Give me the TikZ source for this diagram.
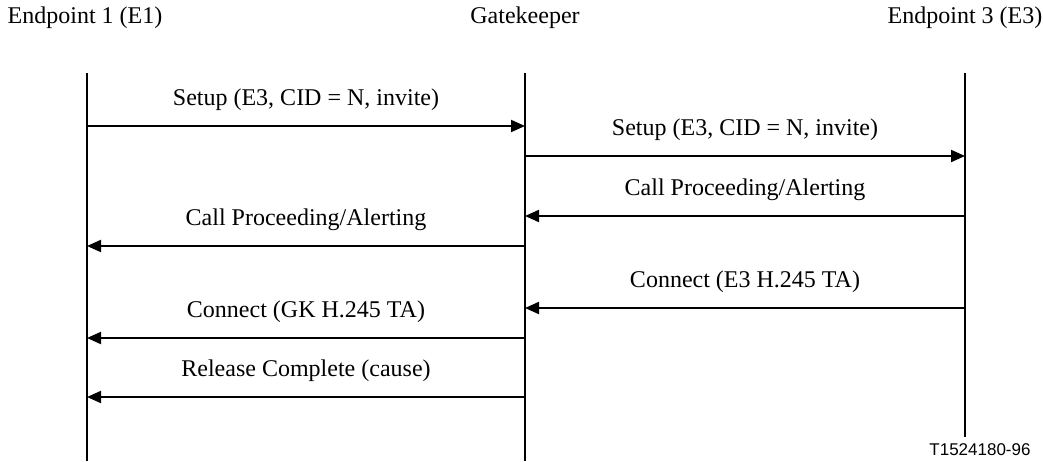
\documentclass[tikz,border=0pt]{standalone}
\usepackage{fontspec}
\setmainfont{Liberation Serif}
\newfontfamily\figsans{Liberation Sans}
\usetikzlibrary{arrows.meta, positioning}

\begin{document}
\begin{tikzpicture}[
    x=0.5pt, y=-0.5pt,
    party/.style={font=\fontsize{12}{14}\selectfont, inner sep=0pt, anchor=base},
    lifeline/.style={line width=1pt},
    msg/.style={-{Triangle[length=7pt, width=6pt]}, line width=1pt},
    lbl/.style={above=7pt, font=\fontsize{12}{14}\selectfont, inner sep=0pt},
  ]
    \useasboundingbox (0,0) rectangle (1043,461);

    % parties
    \node[party] (e1) at (85,23) {Endpoint 1 (E1)};
    \node[party] (gk) at (525,23) {Gatekeeper};
    \node[party] (e3) at (965,23) {Endpoint 3 (E3)};

    % lifelines
    \coordinate (e1top) at (87,73);
    \coordinate (e1bot) at (87,461);
    \coordinate (gktop) at (525,73);
    \coordinate (gkbot) at (525,461);
    \coordinate (e3top) at (965,73);
    \coordinate (e3bot) at (965,437);
    \draw[lifeline] (e1top) -- (e1bot);
    \draw[lifeline] (gktop) -- (gkbot);
    \draw[lifeline] (e3top) -- (e3bot);

    % message ends
    \coordinate (e1-setup) at (87,126);
    \coordinate (gk-setup) at (525,126);
    \coordinate (gk-setup3) at (525,156);
    \coordinate (e3-setup) at (965,156);
    \coordinate (e3-alert) at (965,216);
    \coordinate (gk-alert3) at (525,216);
    \coordinate (gk-alert) at (525,246);
    \coordinate (e1-alert) at (87,246);
    \coordinate (e3-conn) at (965,308);
    \coordinate (gk-conn3) at (525,308);
    \coordinate (gk-conn) at (525,338);
    \coordinate (e1-conn) at (87,338);
    \coordinate (gk-rel) at (525,397);
    \coordinate (e1-rel) at (87,397);

    % messages
    \draw[msg] (e1-setup) -- node[lbl] {Setup (E3, CID = N, invite)} (gk-setup);
    \draw[msg] (gk-setup3) -- node[lbl] {Setup (E3, CID = N, invite)} (e3-setup);
    \draw[msg] (e3-alert) -- node[lbl] {Call Proceeding/Alerting} (gk-alert3);
    \draw[msg] (gk-alert) -- node[lbl] {Call Proceeding/Alerting} (e1-alert);
    \draw[msg] (e3-conn) -- node[lbl] {Connect (E3 H.245 TA)} (gk-conn3);
    \draw[msg] (gk-conn) -- node[lbl] {Connect (GK H.245 TA)} (e1-conn);
    \draw[msg] (gk-rel) -- node[lbl] {Release Complete (cause)} (e1-rel);

    \node[font=\figsans\fontsize{8.5}{10}\selectfont, inner sep=0pt] (tag) at (980,450) {T1524180-96};
  \end{tikzpicture}
\end{document}
